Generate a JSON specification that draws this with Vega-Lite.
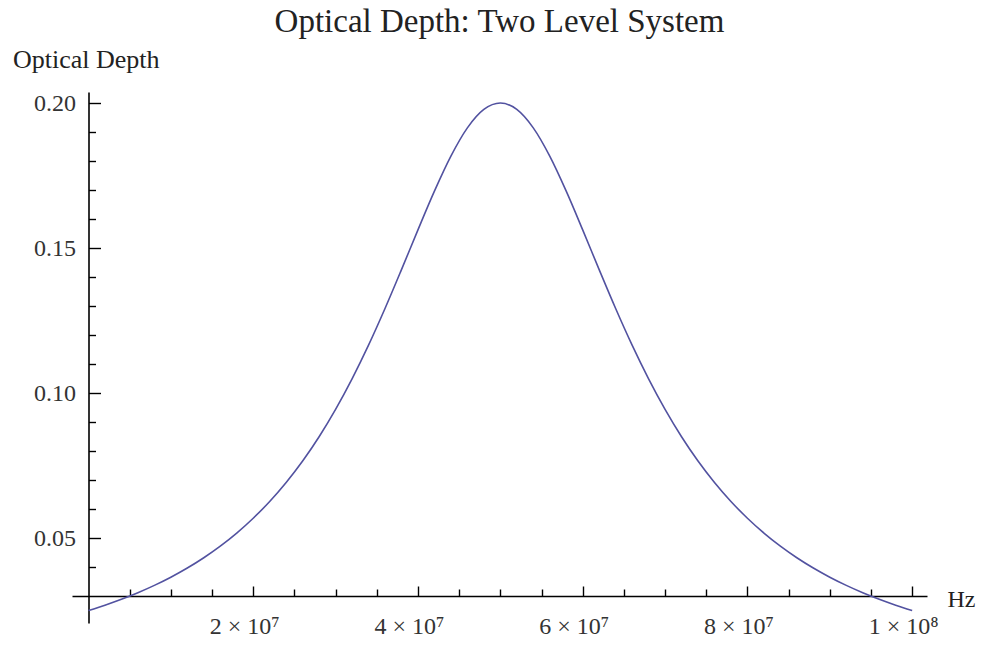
{
  "$schema": "https://vega.github.io/schema/vega-lite/v6.json",
  "width": 855,
  "height": 531,
  "autosize": {"type": "none"},
  "padding": {"left": 72, "top": 92, "right": 57, "bottom": 24},
  "background": "white",
  "title": {
    "text": "Optical Depth: Two Level System",
    "font": "Liberation Serif",
    "fontSize": 33,
    "fontWeight": "normal",
    "color": "#222222",
    "anchor": "middle",
    "baseline": "alphabetic",
    "offset": -19
  },
  "config": {"view": {"stroke": null}},
  "data": {
    "values": [
      {"hz": 0, "depth": 0.02500},
      {"hz": 2000000, "depth": 0.02685},
      {"hz": 4000000, "depth": 0.02889},
      {"hz": 6000000, "depth": 0.03115},
      {"hz": 8000000, "depth": 0.03368},
      {"hz": 10000000, "depth": 0.03650},
      {"hz": 12000000, "depth": 0.03966},
      {"hz": 14000000, "depth": 0.04321},
      {"hz": 16000000, "depth": 0.04721},
      {"hz": 18000000, "depth": 0.05172},
      {"hz": 20000000, "depth": 0.05683},
      {"hz": 22000000, "depth": 0.06260},
      {"hz": 24000000, "depth": 0.06915},
      {"hz": 26000000, "depth": 0.07656},
      {"hz": 28000000, "depth": 0.08493},
      {"hz": 30000000, "depth": 0.09435},
      {"hz": 32000000, "depth": 0.10488},
      {"hz": 34000000, "depth": 0.11650},
      {"hz": 36000000, "depth": 0.12914},
      {"hz": 38000000, "depth": 0.14254},
      {"hz": 40000000, "depth": 0.15626},
      {"hz": 42000000, "depth": 0.16961},
      {"hz": 44000000, "depth": 0.18169},
      {"hz": 46000000, "depth": 0.19143},
      {"hz": 48000000, "depth": 0.19779},
      {"hz": 50000000, "depth": 0.20000},
      {"hz": 52000000, "depth": 0.19779},
      {"hz": 54000000, "depth": 0.19143},
      {"hz": 56000000, "depth": 0.18169},
      {"hz": 58000000, "depth": 0.16961},
      {"hz": 60000000, "depth": 0.15626},
      {"hz": 62000000, "depth": 0.14254},
      {"hz": 64000000, "depth": 0.12914},
      {"hz": 66000000, "depth": 0.11650},
      {"hz": 68000000, "depth": 0.10488},
      {"hz": 70000000, "depth": 0.09435},
      {"hz": 72000000, "depth": 0.08493},
      {"hz": 74000000, "depth": 0.07656},
      {"hz": 76000000, "depth": 0.06915},
      {"hz": 78000000, "depth": 0.06260},
      {"hz": 80000000, "depth": 0.05683},
      {"hz": 82000000, "depth": 0.05172},
      {"hz": 84000000, "depth": 0.04721},
      {"hz": 86000000, "depth": 0.04321},
      {"hz": 88000000, "depth": 0.03966},
      {"hz": 90000000, "depth": 0.03650},
      {"hz": 92000000, "depth": 0.03368},
      {"hz": 94000000, "depth": 0.03115},
      {"hz": 96000000, "depth": 0.02889},
      {"hz": 98000000, "depth": 0.02685},
      {"hz": 100000000, "depth": 0.02500}
    ]
  },
  "mark": {"type": "line", "color": "#5252a0", "strokeWidth": 1.6, "interpolate": "monotone", "clip": false},
  "encoding": {
    "x": {
      "field": "hz",
      "type": "quantitative",
      "scale": {"domain": [-2000000, 101800000], "nice": false, "zero": false},
      "axis": {
        "orient": "bottom",
        "offset": -27,
        "grid": false,
        "values": [5000000, 10000000, 15000000, 20000000, 25000000, 30000000, 35000000, 40000000, 45000000, 50000000, 55000000, 60000000, 65000000, 70000000, 75000000, 80000000, 85000000, 90000000, 95000000, 100000000],
        "domainColor": "#000000",
        "domainWidth": 1.6,
        "tickColor": "#000000",
        "tickWidth": 1.4,
        "tickSize": {"condition": {"test": "round(datum.value/1000000) % 20 === 0", "value": -10}, "value": -7},
        "labelExpr": "datum.value >= 99000000 ? '1 × 10⁸' : (round(datum.value/1000000) % 20 === 0 ? (round(datum.value/10000000) + ' × 10⁷') : '')",
        "labelFont": "Liberation Serif",
        "labelFontSize": 24,
        "labelColor": "#333333",
        "labelPadding": 28,
        "labelOffset": -9,
        "labelOverlap": false,
        "labelFlush": false,
        "labelBound": false,
        "title": "Hz",
        "titleX": 875,
        "titleY": 10,
        "titleAlign": "left",
        "titleBaseline": "alphabetic",
        "titleAnchor": null,
        "titleFont": "Liberation Serif",
        "titleFontSize": 24,
        "titleFontWeight": "normal",
        "titleColor": "#222222"
      }
    },
    "y": {
      "field": "depth",
      "type": "quantitative",
      "scale": {"domain": [0.0207, 0.2038], "nice": false, "zero": false},
      "axis": {
        "orient": "left",
        "offset": -16.5,
        "grid": false,
        "values": [0.04, 0.05, 0.06, 0.07, 0.08, 0.09, 0.10, 0.11, 0.12, 0.13, 0.14, 0.15, 0.16, 0.17, 0.18, 0.19, 0.20],
        "domainColor": "#000000",
        "domainWidth": 1.6,
        "tickColor": "#000000",
        "tickWidth": 1.4,
        "tickSize": {"condition": {"test": "round(datum.value*100) % 5 === 0", "value": -12}, "value": -7},
        "labelExpr": "round(datum.value*100) % 5 === 0 ? format(datum.value, '.2f') : ''",
        "labelFont": "Liberation Serif",
        "labelFontSize": 24,
        "labelColor": "#333333",
        "labelPadding": 25,
        "labelOverlap": false,
        "labelFlush": false,
        "labelBound": false,
        "title": "Optical Depth",
        "titleAngle": 0,
        "titleX": -76,
        "titleY": -25,
        "titleAlign": "left",
        "titleBaseline": "alphabetic",
        "titleAnchor": null,
        "titleFont": "Liberation Serif",
        "titleFontSize": 26,
        "titleFontWeight": "normal",
        "titleColor": "#222222"
      }
    }
  }
}
